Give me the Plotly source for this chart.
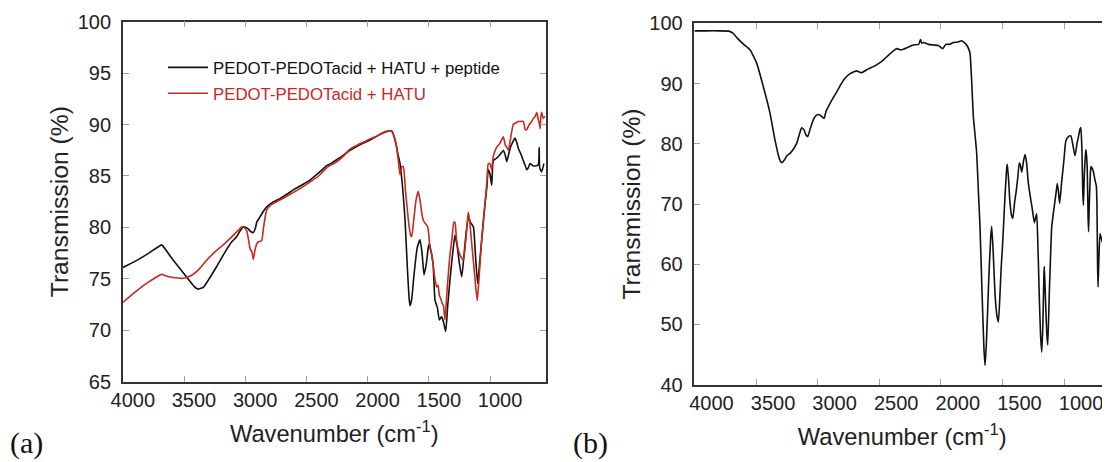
import plotly.graph_objects as go

# ---------------- data: panel (a) ----------------
a_black_wn = [4000, 3900, 3800, 3700, 3682, 3600, 3500, 3420, 3383, 3340, 3300, 3233, 3170, 3110, 3070, 3040,
              3015, 2980, 2955, 2934, 2915, 2906, 2880, 2850, 2824, 2780, 2716, 2650, 2600, 2540, 2471, 2400,
              2334, 2300, 2250, 2200, 2144, 2100, 2050, 1980, 1920, 1860, 1820, 1800, 1770, 1750, 1735, 1715,
              1694, 1675, 1660, 1653, 1640, 1620, 1595, 1572, 1555, 1539, 1520, 1505, 1496, 1484, 1476, 1465,
              1449, 1430, 1414, 1404, 1395, 1380, 1362, 1345, 1320, 1300, 1286, 1270, 1250, 1231, 1215, 1195,
              1177, 1160, 1136, 1120, 1101, 1085, 1070, 1055, 1041, 1025, 1014, 1000, 986, 973, 950, 932,
              910, 891, 875, 863, 850, 830, 810, 796, 780, 769, 750, 728, 712, 700, 687, 673, 650, 620,
              605, 598, 594, 578, 560]
a_black_t = [76.1, 76.7, 77.4, 78.2, 78.3, 77.0, 75.5, 74.3, 74.0, 74.2, 74.9, 76.2, 77.5, 78.6, 79.1, 79.7,
             80.05, 79.9, 79.6, 79.5, 80.0, 80.5, 81.0, 81.6, 82.0, 82.4, 82.8, 83.3, 83.7, 84.1, 84.6, 85.3,
             86.0, 86.2, 86.6, 87.0, 87.5, 87.8, 88.1, 88.5, 88.9, 89.25, 89.4, 89.35, 88.2, 87.0, 86.2, 84.0,
             80.7, 76.0, 73.0, 72.4, 73.0, 75.5, 78.0, 78.8, 77.5, 75.4, 76.5, 78.0, 78.4, 77.8, 77.3, 76.5,
             72.9, 72.2, 71.0, 71.2, 71.3, 70.8, 69.9, 72.5, 75.8, 78.0, 79.25, 78.3, 76.5, 75.2, 77.0, 79.5,
             81.0, 80.5, 80.06, 77.5, 74.55, 76.5, 78.5, 80.5, 82.3, 84.0, 85.6, 85.2, 84.1, 86.5, 86.7, 86.9,
             87.2, 87.5, 87.0, 86.4, 87.0, 87.9, 88.4, 88.7, 88.2, 87.7, 87.2, 86.5, 86.0, 85.6, 85.8, 86.2, 86.0, 86.0,
             86.1, 87.8, 85.8, 85.4, 86.2]

a_red_wn = [4000, 3900, 3800, 3700, 3682, 3650, 3600, 3506, 3437, 3380, 3315, 3250, 3179, 3100, 3050, 3029,
            3010, 2988, 2970, 2961, 2945, 2934, 2920, 2906, 2893, 2866, 2850, 2824, 2790, 2743, 2650, 2550,
            2471, 2400, 2334, 2250, 2200, 2144, 2100, 2050, 1980, 1920, 1860, 1820, 1800, 1770, 1750, 1735,
            1720, 1708, 1690, 1665, 1650, 1640, 1625, 1605, 1586, 1570, 1555, 1545, 1530, 1509, 1500, 1490,
            1478, 1463, 1450, 1435, 1425, 1414, 1400, 1390, 1380, 1368, 1350, 1330, 1310, 1295, 1286, 1275,
            1259, 1240, 1218, 1200, 1185, 1177, 1165, 1150, 1130, 1115, 1104, 1090, 1070, 1055, 1041, 1025,
            1014, 1000, 986, 975, 960, 945, 918, 891, 875, 863, 850, 830, 810, 796, 770, 755, 728, 712, 700,
            680, 659, 646, 630, 618, 606, 597, 590, 585, 578, 565, 551]
a_red_t = [72.7, 73.7, 74.6, 75.35, 75.45, 75.3, 75.15, 75.05, 75.35, 75.9, 76.8, 77.6, 78.3, 79.2, 79.8, 80.05,
           80.0, 79.7, 78.6, 77.96, 77.6, 76.9, 77.8, 78.4, 78.6, 78.7, 80.0, 81.7, 82.2, 82.5, 83.1, 83.8,
           84.4, 85.0, 85.8, 86.4, 86.9, 87.6, 87.9, 88.2, 88.6, 88.9, 89.3, 89.4, 89.3, 88.3, 86.6, 85.1,
           85.9, 85.9, 83.5, 80.5, 79.3, 79.1, 80.5, 82.6, 83.5, 82.5, 81.2, 80.7, 80.4, 80.06, 79.3, 77.96,
           77.5, 76.2, 75.0, 74.2, 74.4, 73.4, 73.0, 72.6, 72.4, 71.0, 74.0, 77.0, 79.0, 80.5, 80.5, 79.0,
           77.8, 77.2, 76.8, 78.5, 80.5, 81.5, 80.5, 78.5, 76.0, 74.0, 72.9, 75.0, 78.5, 80.5, 82.3, 84.5,
           86.2, 86.2, 85.6, 86.8, 87.4, 87.8, 88.2, 88.8, 88.0, 87.8, 87.5, 88.8, 90.0, 90.1, 90.3, 90.3, 90.3, 89.5, 89.5,
           90.0, 90.3, 90.6, 90.8, 91.2, 90.5, 90.1, 89.6, 90.7, 91.2, 90.6, 90.8]

# ---------------- data: panel (b) ----------------
b_wn = [4000, 3900, 3800, 3720, 3690, 3650, 3600, 3549, 3494, 3441, 3386, 3346, 3310, 3290, 3270, 3250,
        3224, 3200, 3170, 3145, 3129, 3110, 3095, 3080, 3060, 3030, 3007, 2990, 2970, 2948, 2930, 2913,
        2880, 2845, 2810, 2778, 2740, 2700, 2683, 2660, 2642, 2600, 2548, 2500, 2467, 2420, 2380, 2358,
        2330, 2304, 2270, 2223, 2180, 2165, 2155, 2140, 2100, 2061, 2020, 1985, 1960, 1930, 1899, 1860,
        1830, 1810, 1790, 1775, 1763, 1750, 1736, 1720, 1709, 1695, 1682, 1665, 1650, 1641, 1630, 1610,
        1595, 1587, 1575, 1560, 1545, 1533, 1520, 1510, 1498, 1480, 1465, 1460, 1450, 1440, 1425, 1416,
        1400, 1390, 1375, 1363, 1355, 1343, 1330, 1317, 1305, 1290, 1276, 1260, 1241, 1230, 1222, 1212,
        1200, 1190, 1181, 1172, 1163, 1160, 1152, 1140, 1132, 1120, 1110, 1100, 1080, 1065, 1055, 1045,
        1036, 1020, 1000, 985, 965, 945, 930, 911, 895, 880, 870, 864, 855, 848, 843, 835, 825, 821,
        812, 805, 801, 795, 785, 781, 765, 749, 738, 733, 728, 724, 718, 708, 700, 680, 660, 627]
b_t = [98.75, 98.75, 98.75, 98.7, 98.4, 97.5, 96.5, 95.6, 93.35, 89.5, 85.05, 80.6, 77.5, 76.85, 77.3, 78.0,
       78.4, 79.0, 80.07, 81.8, 82.66, 82.3, 81.5, 81.2, 82.5, 84.2, 84.8, 84.85, 84.6, 84.2, 85.5, 86.15,
       87.4, 88.6, 89.9, 90.86, 91.6, 92.0, 92.1, 91.9, 91.8, 92.3, 92.8, 93.4, 93.9, 94.8, 95.5, 95.8,
       95.6, 95.7, 96.0, 96.4, 96.5, 97.3, 96.7, 96.8, 96.5, 96.4, 96.3, 95.8, 96.5, 96.5, 96.8, 96.9,
       97.1, 96.8, 96.4, 95.8, 95.0, 90.5, 84.5, 81.0, 78.4, 72.0, 66.2, 55.0, 46.0, 43.2, 47.0, 58.0,
       64.5, 66.3, 62.0, 55.0, 51.5, 50.4, 55.0, 59.5, 63.5, 71.0, 76.0, 76.6, 74.0, 70.5, 68.0, 67.6,
       70.5, 71.8, 74.5, 76.8, 76.5, 75.3, 77.0, 78.2, 77.0, 73.5, 71.5, 69.5, 66.9, 67.8, 68.4, 63.0,
       54.0, 48.0, 45.4, 50.0, 58.5, 59.6, 55.0, 48.5, 46.6, 55.0, 61.0, 66.2, 69.5, 71.8, 73.4, 72.0,
       70.1, 73.5, 77.5, 80.5, 81.2, 81.3, 80.0, 78.0, 80.0, 81.5, 82.5, 82.7, 79.0, 72.0, 69.8, 75.0, 78.5, 79.0,
       76.0, 68.0, 65.4, 70.0, 75.5, 76.2, 75.6, 74.0, 73.0, 70.0, 60.0, 56.2, 60.5, 65.1, 64.5, 63.0, 61.3, 59.4]

legend_names = ["PEDOT-PEDOTacid + HATU + peptide", "PEDOT-PEDOTacid + HATU"]
x_title = "Wavenumber (cm<sup>-1</sup>)"
y_title = "Transmission (%)"
panel_labels = ["(a)", "(b)"]

BLACK = "#111111"
RED = "#c8281e"
FONT = "Liberation Sans, Arial, sans-serif"
SERIF = "Liberation Serif, Times New Roman, serif"
LINE = dict(width=1.6, shape="spline", smoothing=0.5)

fig = go.Figure()
fig.add_trace(go.Scatter(x=a_black_wn, y=a_black_t, mode="lines", name=legend_names[0], legendgroup="g1",
                         line=dict(color=BLACK, **LINE), xaxis="x", yaxis="y"))
fig.add_trace(go.Scatter(x=a_red_wn, y=a_red_t, mode="lines", legendgroup="g2",
                         name="<span style='color:%s'>%s</span>" % (RED, legend_names[1]),
                         line=dict(color=RED, **LINE), xaxis="x", yaxis="y"))
fig.add_trace(go.Scatter(x=b_wn, y=b_t, mode="lines", showlegend=False,
                         line=dict(color=BLACK, **LINE), xaxis="x2", yaxis="y2"))

# the page body has an 8 px margin; positions below are in figure pixels
W, H = 1102, 454
axis_common = dict(showgrid=False, zeroline=False, showline=True, linecolor="#333333", linewidth=1.5,
                   ticks="inside", ticklen=6, tickwidth=1, tickcolor="#a0a0a0", automargin=False,
                   tickfont=dict(family=FONT, size=20, color="#222222"))
x_title_font = dict(family=FONT, size=23.7, color="#222222")
y_title_font = dict(family=FONT, size=24.7, color="#222222")

fig.update_layout(
    width=W, height=H, margin=dict(l=0, r=0, t=0, b=0),
    paper_bgcolor="white", plot_bgcolor="white",
    font=dict(family=FONT, color="#222222"),
    xaxis=dict(domain=[114.8 / W, 537.7 / W], range=[4000, 545], dtick=500, tick0=0, mirror="ticks",
               ticklabelshift=-10, title=dict(text=x_title, font=x_title_font),
               anchor="y", **axis_common),
    yaxis=dict(domain=[1 - 373.7 / H, 1 - 13.7 / H], range=[65, 100], dtick=5, mirror="ticks",
               ticklabelstandoff=6, title=dict(text=y_title, font=y_title_font, standoff=2),
               anchor="x", **axis_common),
    xaxis2=dict(domain=[686.4 / W, 1.0], range=[4000, 627], dtick=500, tick0=0, mirror="ticks",
                ticklabelshift=-17, title=dict(text=x_title, font=x_title_font),
                anchor="y2", **axis_common),
    yaxis2=dict(domain=[1 - 376.7 / H, 1 - 15.3 / H], range=[40, 100], dtick=10, mirror=False,
                ticklabelstandoff=6, title=dict(text=y_title, font=y_title_font, standoff=2),
                anchor="x2", **axis_common),
    legend=dict(x=155 / W, y=1 - 42 / H, xanchor="left", yanchor="top", bgcolor="rgba(0,0,0,0)",
                font=dict(family=FONT, size=16.8, color=BLACK), itemwidth=40, tracegroupgap=1),
    showlegend=True,
    annotations=[
        dict(text=panel_labels[0], x=0, y=1 - 435 / H, xref="paper", yref="paper", xanchor="left",
             yanchor="middle", showarrow=False, font=dict(family=SERIF, size=30, color="#111111")),
        dict(text=panel_labels[1], x=563 / W, y=1 - 435 / H, xref="paper", yref="paper", xanchor="left",
             yanchor="middle", showarrow=False, font=dict(family=SERIF, size=30, color="#111111")),
    ],
)

fig.write_html("out.html")
